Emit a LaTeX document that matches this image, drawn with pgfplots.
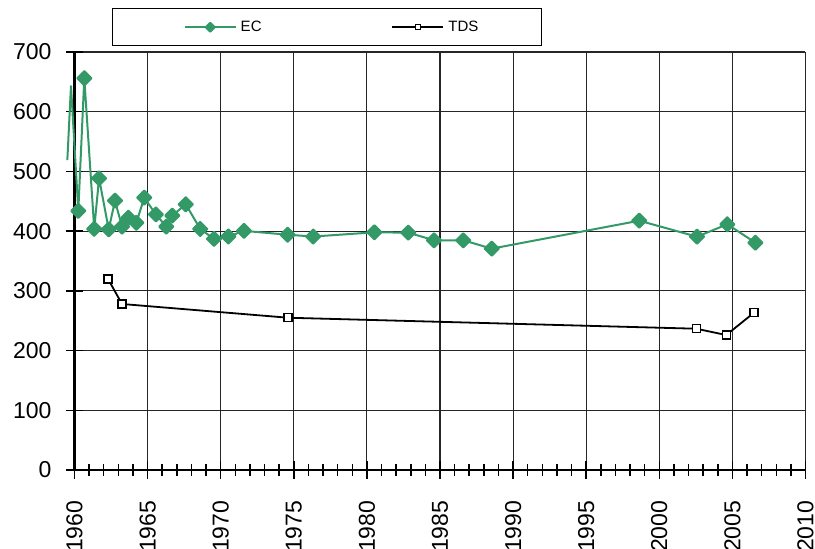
\documentclass[border=0pt]{standalone}
\usepackage{pgfplots}
\pgfplotsset{compat=1.18}
\usepackage{fontspec}
\setmainfont{Liberation Sans}
\definecolor{ecgreen}{RGB}{51,153,102}

\begin{document}
\begin{tikzpicture}
\begin{axis}[
  scale only axis,
  width=731pt, height=418pt,
  xmin=1960, xmax=2010,
  ymin=0, ymax=700,
  xtick={1960,1965,...,2010},
  ytick={0,100,...,700},
  minor x tick num=4,
  axis lines=left,
  axis line style={-, line width=2.4pt},
  grid=major,
  major grid style={black!85, line width=1.1pt},
  tick style={black, line width=1.5pt},
  tick align=center,
  major tick length=17pt,
  minor tick length=12pt,
  clip=false,
  tick label style={font=\fontsize{23}{23}\selectfont},
  /pgf/number format/assume math mode=true,
  /pgf/number format/1000 sep={},
  xticklabel style={rotate=90, anchor=east, inner xsep=22pt},
  yticklabel shift=11pt,
  legend columns=2,
  legend style={at={(0.0513,1.1053)}, anchor=north west, draw=black, line width=1.5pt,
    inner xsep=63pt, inner ysep=10.5pt, font=\fontsize{15}{18}\selectfont,
    nodes={inner xsep=0pt},
    /tikz/every even column/.append style={column sep=122pt}},
  legend image code/.code={
    \path (-8pt,0pt) (55pt,0pt);
    \draw[mark repeat=2, mark phase=2, every mark/.append style={scale=0.62}]
      plot coordinates {(0pt,0pt) (25.5pt,0pt) (51pt,0pt)};
  },
]
% EC segment before 1960, no markers
\addplot[forget plot, ecgreen, line width=2pt, line join=round, no markers]
  coordinates {(1959.51,519) (1959.76,643) (1960.26,434)};
\addplot[ecgreen, line width=2pt, line join=round, mark=square*, mark size=5pt,
  mark options={rotate=45, solid, fill=ecgreen}] coordinates {
  (1960.26,434) (1960.67,656) (1961.35,404) (1961.68,488.5) (1962.34,403)
  (1962.77,451) (1963.25,407.5) (1963.68,422.5) (1964.23,414) (1964.77,456)
  (1965.57,428) (1966.28,407.5) (1966.69,426) (1967.61,445) (1968.60,403.6)
  (1969.54,387) (1970.52,391) (1971.59,400.5) (1974.58,394) (1976.33,391)
  (1980.51,398) (1982.83,397.5) (1984.59,384.7) (1986.59,384.7) (1988.54,370.7)
  (1998.63,417.5) (2002.58,390.7) (2004.65,411.5) (2006.57,380.7)
};
\addlegendentry{EC}
\addplot[black, line width=1.8pt, mark=square*, mark size=4pt,
  mark options={solid, fill=white, line width=1.5pt}] coordinates {
  (1962.29,320) (1963.25,278) (1974.61,255) (2002.53,236.6) (2004.58,226) (2006.48,263.5)
};
\addlegendentry{TDS}
\end{axis}
\pgfresetboundingbox
\path (-74.5pt,-79pt) rectangle (740.5pt,470pt);
\end{tikzpicture}
\end{document}
